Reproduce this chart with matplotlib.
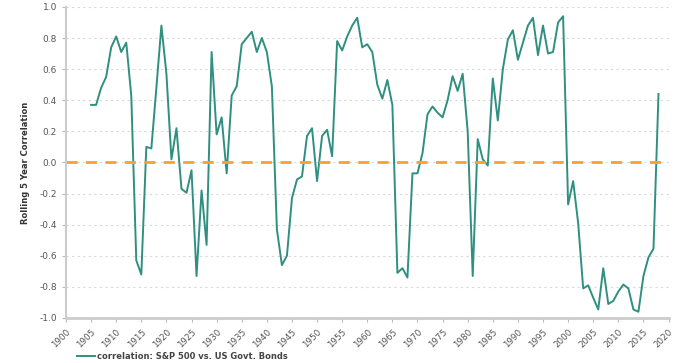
import matplotlib.pyplot as plt
import numpy as np

years = np.arange(1905, 2019)
corr = [
    0.37, 0.37, 0.48, 0.55, 0.74, 0.81, 0.71, 0.77, 0.43, -0.63,   # 1905-1914
    -0.72, 0.10, 0.09, 0.48, 0.88, 0.57, 0.02, 0.22, -0.17, -0.195, # 1915-1924
    -0.05, -0.73, -0.18, -0.53, 0.71, 0.18, 0.29, -0.07, 0.43, 0.49, # 1925-1934
    0.76, 0.80, 0.84, 0.71, 0.80, 0.71, 0.49, -0.43, -0.66, -0.60,  # 1935-1944
    -0.23, -0.11, -0.09, 0.17, 0.22, -0.12, 0.17, 0.21, 0.04, 0.78, # 1945-1954
    0.72, 0.81, 0.88, 0.93, 0.74, 0.76, 0.71, 0.50, 0.41, 0.53,     # 1955-1964
    0.37, -0.71, -0.68, -0.74, -0.07, -0.07, 0.06, 0.31, 0.36, 0.32, # 1965-1974
    0.29, 0.40, 0.555, 0.46, 0.57, 0.20, -0.73, 0.15, 0.02, -0.02,  # 1975-1984
    0.54, 0.27, 0.60, 0.79, 0.85, 0.66, 0.77, 0.88, 0.93, 0.69,     # 1985-1994
    0.88, 0.70, 0.71, 0.90, 0.94, -0.27, -0.12, -0.39, -0.81, -0.79, # 1995-2004
    -0.87, -0.945, -0.68, -0.91, -0.89, -0.83, -0.785, -0.81, -0.945, -0.96, # 2005-2014
    -0.73, -0.61, -0.555, 0.44,                                      # 2015-2018
]
x_ticks = np.arange(1900, 2021, 5)
y_ticks = [-1.0, -0.8, -0.6, -0.4, -0.2, 0.0, 0.2, 0.4, 0.6, 0.8, 1.0]
y_labels = ["-1.0", "-0.8", "-0.6", "-0.4", "-0.2", "0.0",
            "0.2", "0.4", "0.6", "0.8", "1.0"]

fig = plt.figure(figsize=(6.91, 3.63), dpi=100)
ax = fig.add_axes([0.0955, 0.124, 0.872, 0.857])

ax.plot(years, corr, color="#2f8f80", linewidth=1.4,
        label="correlation: S&P 500 vs. US Govt. Bonds")
ax.axhline(0, color="#f7a035", linewidth=2, linestyle=(0, (4, 3)))

ax.set_xlim(1900, 2020)
ax.set_ylim(-1.0, 1.0)
ax.set_xticks(x_ticks)
ax.set_yticks(y_ticks)
ax.set_yticklabels(y_labels)
ax.tick_params(axis="x", labelrotation=45, labelsize=6.3, colors="#555555",
               length=3, color="#bbbbbb")
ax.tick_params(axis="y", labelsize=6.5, colors="#555555", length=3,
               color="#bbbbbb")
for lbl in ax.get_xticklabels():
    lbl.set_ha("right")
    lbl.set_rotation_mode("anchor")

ax.grid(axis="y", color="#d8d8d8", linestyle=(0, (2, 3)), linewidth=0.8)
ax.set_axisbelow(True)
for side in ["top", "right"]:
    ax.spines[side].set_visible(False)
ax.spines["left"].set_color("#cccccc")
ax.spines["left"].set_linewidth(1.5)
ax.spines["bottom"].set_color("#cccccc")
ax.spines["bottom"].set_linewidth(2)

ax.set_ylabel("Rolling 5 Year Correlation", fontsize=6, fontweight="bold",
              color="#333333", labelpad=7)

ax.legend(loc="upper left", bbox_to_anchor=(0.005, -0.085), frameon=False,
          handlelength=2.2, handletextpad=0.3,
          prop={"size": 6, "weight": "bold"})
for t in ax.get_legend().get_texts():
    t.set_color("#444444")

plt.savefig("out.png", dpi=100)
plt.close()
